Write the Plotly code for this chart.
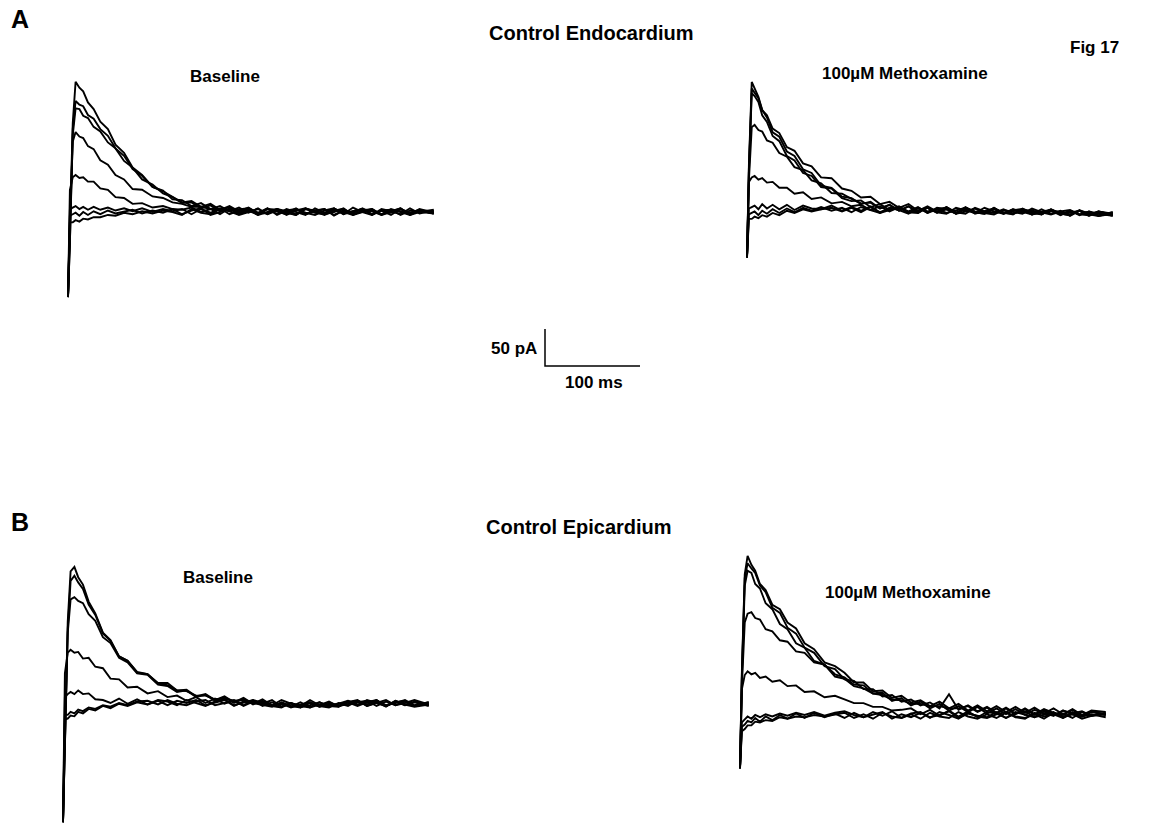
import plotly.graph_objects as go

# ---------------- data (time in ms, current in pA) ----------------
time_ms = [0, 2, 5, 8, 12, 16, 21, 27, 34, 42, 50, 59, 68, 78, 89, 100,
           110, 120, 130, 140, 150, 160, 170, 180, 190, 200, 210, 220, 230, 240,
           250, 260, 270, 280, 290, 300, 310, 320, 330, 340, 350, 360, 370, 385]

# A - Control Endocardium, Baseline
endo_base = [
    [-115, -30, 120, 176, 168, 163, 148, 139, 122, 112, 91, 80, 60, 50, 34, 28,
     21, 13, 15, 7, 11, 3, 8, 1, 6, -2, 5, -3, 4, 0, -4, 5, -1, 4, -3, 6, 0, -4, 4, 1, -3, 5, -2, 2],
    [-115, -40, 112, 150, 145, 143, 131, 126, 112, 103, 86, 76, 58, 49, 34, 29,
     17, 16, 8, 12, 4, 8, 1, 6, -1, 5, -3, 4, -1, 5, -3, 2, 4, -4, 2, -1, 5, -3, 2, -4, 4, -1, 3, -2],
    [-115, -42, 104, 140, 139, 130, 127, 115, 109, 94, 86, 69, 60, 44, 37, 25,
     20, 12, 13, 5, 9, 1, 7, -1, 5, -3, 4, 3, -4, 2, 5, -1, -3, 4, 0, -4, 2, 4, -3, 1, 5, -4, 0, 3],
    [-115, -15, 95, 108, 102, 100, 89, 85, 70, 64, 50, 44, 31, 30, 21, 19,
     13, 11, 7, 7, 4, 4, 2, 3, 5, -1, -2, 4, -1, -4, 4, 1, -3, 5, -2, 1, 4, -3, 2, 3, -4, 2, 0, -2],
    [-115, 30, 47, 50, 46, 47, 41, 41, 32, 30, 20, 19, 11, 12, 6, 8,
     4, 3, 6, 0, 4, -3, 5, -1, 2, -4, 4, 1, -3, 4, -1, -4, 2, 5, -3, 1, 4, -4, 2, -1, 4, -3, 2, 0],
    [-115, 3, 6, 8, 4, 7, 3, 7, 3, 6, 2, 5, 1, 5, 0, 4,
     1, 4, -3, 4, -1, 5, -3, 2, 4, -4, 0, 4, 1, -3, 5, 0, -4, 2, 4, -3, 0, 4, -4, 2, 1, -3, 4, -1],
    [-115, -5, -3, -1, -5, 0, -4, 1, -3, 2, -2, 1, 3, -2, 2, -1,
     4, -3, 2, 5, -4, 0, 4, -3, 2, -1, 5, -4, 2, 4, -3, 1, 4, -5, 2, -1, 4, 1, -4, 0, 5, -3, 2, -2],
    [-115, -14, -14, -11, -13, -9, -10, -7, -7, -4, -5, -1, -3, 1, -2, 2,
     0, -4, 4, -1, -3, 4, 1, -4, 0, 4, -3, 2, 0, -4, 4, 2, -3, 0, 5, -4, 0, 2, -3, 4, 0, -4, 2, 1],
]

# A - Control Endocardium, 100 uM Methoxamine
endo_mtx = [
    [-64, 60, 173, 164, 153, 135, 125, 105, 99, 79, 73, 55, 50, 33, 30, 18,
     16, 8, 11, 2, 7, -1, 5, -4, 3, -3, 2, -5, 3, -2, -4, 2, -5, 1, -3, -6, 1, -5, -1, -8, -1, -6, -8, -5],
    [-64, 55, 164, 158, 151, 135, 128, 110, 104, 85, 80, 63, 59, 44, 43, 29,
     26, 17, 18, 8, 11, 3, 8, -1, 5, -2, 4, -4, 3, -3, -5, 3, -4, 0, 1, -6, -3, 0, -6, -1, -7, -2, -5, -8],
    [-64, 50, 158, 154, 146, 128, 119, 100, 93, 73, 67, 50, 46, 31, 29, 16,
     12, 13, 4, 8, 0, 5, -2, 4, -4, 3, 1, -4, 4, -3, -5, 1, -3, -6, 2, -4, -5, 1, -6, -4, -1, -8, -2, -6],
    [-64, 40, 112, 115, 108, 106, 94, 91, 77, 72, 58, 54, 40, 36, 23, 22,
     15, 9, 10, 2, 7, -1, 5, -2, 3, -4, 4, -3, -5, 3, -2, -4, 1, -5, -1, -4, -6, 1, -5, -7, 0, -6, -2, -7],
    [-64, 38, 44, 46, 41, 43, 37, 38, 30, 30, 22, 24, 15, 17, 9, 11,
     5, 7, 0, 5, -2, 4, -3, 3, -4, 1, 3, -5, 1, -3, -4, 3, -5, -1, 1, -6, -2, 0, -5, -7, -1, -4, -7, -3],
    [-64, 2, 4, 6, 1, 8, 2, 7, 1, 7, 0, 6, 2, 1, 6, -1,
     4, -1, 5, -3, 2, 4, -4, 0, 3, -3, -5, 3, 0, -4, 3, -2, -5, 1, -4, 0, -6, 0, -3, -6, -1, -7, -2, -5],
    [-64, -6, -4, -2, -7, -1, -5, 1, -4, 2, -3, 3, -1, 4, -1, 3,
     -3, 4, 0, -4, 3, 0, -5, 3, -2, 1, -4, -1, 3, -5, -1, 2, -4, -5, 1, -2, -5, -1, -7, -1, -6, -2, -8, -3],
    [-64, -12, -12, -9, -11, -7, -9, -4, -7, -1, -4, 1, -2, 1, 3, -2,
     3, -3, 4, -4, 0, 3, -3, -4, 4, -3, 1, -5, -2, 2, -4, -6, 0, -3, -5, 2, -3, -6, -2, 0, -6, -7, -3, -8],
]

# B - Control Epicardium, Baseline
epi_base = [
    [-161, -40, 110, 178, 184, 170, 160, 137, 121, 95, 85, 63, 57, 42, 39, 27,
     27, 17, 18, 9, 12, 4, 9, 1, 7, -1, 5, -3, 4, -1, -4, 4, -3, 2, -5, 1, 4, -4, 1, -5, 3, -2, -5, -2],
    [-161, -45, 100, 165, 172, 163, 154, 133, 119, 94, 84, 63, 57, 41, 39, 26,
     24, 17, 16, 10, 10, 5, 6, 3, 4, 1, -1, 4, -5, 0, -6, 1, -4, -6, 0, -4, 3, -2, 4, -4, 1, 3, -4, -1],
    [-161, -50, 95, 140, 143, 138, 135, 120, 111, 89, 81, 61, 55, 40, 38, 25,
     23, 15, 17, 8, 11, 3, 8, 0, 6, -2, 3, -4, 0, -5, 1, -6, -2, -4, -5, 3, -2, 1, 4, -4, 2, -3, 1, -4],
    [-161, 40, 68, 72, 68, 69, 60, 61, 49, 47, 33, 32, 21, 22, 13, 16,
     8, 10, 3, 8, 0, 6, -1, 4, -3, 4, 0, -4, -1, -6, -2, 1, -5, -1, -4, 1, 3, -4, 0, 4, -3, 2, -4, 1],
    [-161, 8, 12, 15, 12, 17, 12, 13, 5, 4, 0, 6, -1, 5, -2, 4,
     2, -3, 4, 0, -4, 2, 5, -3, 0, 4, -4, 1, -5, 0, -4, -6, 1, -4, -1, 3, -3, 4, 0, -4, 3, -3, 2, -3],
    [-161, -22, -21, -17, -18, -12, -14, -8, -10, -4, -7, -1, -4, 1, -2, 3,
     -3, 3, 0, 4, -3, 1, 4, -4, 2, 0, -3, -5, 1, -4, -6, 0, -5, 1, -4, -1, 1, 3, -4, 2, -3, 0, 4, -2],
    [-161, -16, -16, -12, -14, -9, -11, -6, -8, -3, -5, 0, -3, 2, 3, -2,
     4, -1, -3, 2, 4, -3, 0, 3, -4, 2, 1, -4, -6, 0, -5, -3, 1, -5, -1, 1, -4, 1, 3, -3, 0, 4, -3, 1],
]

# B - Control Epicardium, 100 uM Methoxamine
epi_mtx = [
    [-72, 60, 190, 215, 203, 195, 177, 169, 149, 143, 125, 117, 97, 89, 71, 66,
     57, 44, 44, 32, 33, 23, 26, 17, 20, 12, 18, 9, 15, 6, 13, 5, 12, 4, 11, 3, 10, 2, 9, 1, 8, 0, 6, 4],
    [-72, 55, 185, 205, 198, 192, 175, 166, 145, 138, 118, 110, 91, 84, 66, 62,
     48, 46, 35, 35, 25, 27, 18, 21, 13, 17, 9, 28, 7, 13, 5, 11, 3, 10, 2, 9, 1, 8, 3, 0, 7, -1, 4, 1],
    [-72, 50, 175, 195, 192, 177, 171, 151, 143, 123, 116, 97, 91, 73, 68, 52,
     49, 39, 36, 29, 27, 21, 20, 15, 15, 12, 12, 9, 9, 12, 4, 10, 2, 9, 1, 8, 0, 7, -1, 6, 2, -2, 5, 0],
    [-72, 40, 125, 137, 139, 131, 129, 116, 113, 101, 99, 86, 84, 71, 68, 55,
     51, 41, 40, 29, 30, 19, 23, 13, 18, 9, 15, 6, 12, 4, 11, 2, 9, 1, 8, 0, 7, 2, -1, 6, 1, -2, 5, 0],
    [-72, 35, 54, 59, 55, 57, 50, 52, 45, 47, 39, 40, 31, 32, 24, 26,
     21, 16, 16, 11, 11, 6, 7, 9, 1, 7, -1, 6, -2, 5, -3, 4, 2, -4, 4, 0, -3, 5, 0, 2, -4, 4, -1, 2],
    [-72, -10, -6, -2, -5, 0, -3, 1, -2, 2, -1, 3, 0, 4, -1, 3,
     5, 0, -3, 4, -1, 5, -4, 2, 4, -3, 0, 5, -4, 2, -1, -3, 4, -4, 2, 5, -3, 0, 4, -4, 2, 5, -1, 3],
    [-72, -16, -13, -8, -10, -4, -9, -2, -7, 0, -5, 2, -4, 3, -3, 2,
     -4, 3, -3, 1, 4, -5, 1, -3, 3, -4, 4, 0, -5, 3, -2, -4, 1, 4, -3, -5, 3, -2, 1, -4, 4, -2, 1, -3],
    [-72, -22, -19, -14, -14, -9, -10, -7, -8, -3, -5, -2, -3, 0, -2, 1,
     3, -4, 1, -5, 3, -2, -4, 1, -5, 3, -2, -4, 4, -2, -5, 1, -4, 3, -2, -4, 1, -5, 3, -2, 1, -5, -1, 1],
]

scale_ms = [0, 0, 100]
scale_pa = [50, 0, 0]

# ---------------- layout helpers ----------------
W, H = 1149, 825
SX, SY = 0.95, 0.74   # px per ms, px per pA
FONT = "Arial, Liberation Sans, Helvetica, sans-serif"

fig = go.Figure()
layout = {}


def add_panel(idx, x0, y0, left, right, top, bottom, series, xs, width=1.9):
    left, right = max(0, left), min(W, right)
    top, bottom = max(0, top), min(H, bottom)
    xa = "xaxis" if idx == 1 else f"xaxis{idx}"
    ya = "yaxis" if idx == 1 else f"yaxis{idx}"
    xr = "x" if idx == 1 else f"x{idx}"
    yr = "y" if idx == 1 else f"y{idx}"
    layout[xa] = dict(domain=[left / W, right / W],
                      range=[(left - x0) / SX, (right - x0) / SX],
                      visible=False, anchor=yr, fixedrange=True)
    layout[ya] = dict(domain=[1 - bottom / H, 1 - top / H],
                      range=[(y0 - bottom) / SY, (y0 - top) / SY],
                      visible=False, anchor=xr, fixedrange=True)
    for s in series:
        fig.add_trace(go.Scatter(x=xs, y=s, mode="lines", xaxis=xr, yaxis=yr,
                                 line=dict(color="black", width=width),
                                 showlegend=False, hoverinfo="skip"))


panels = [
    (1, 68, 212, endo_base),
    (2, 747, 210, endo_mtx),
    (3, 63, 703, epi_base),
    (4, 740, 715, epi_mtx),
]
for idx, x0, y0, series in panels:
    add_panel(idx, x0, y0, x0 - 15, x0 + 395, y0 - 200, y0 + 130, series, time_ms)

add_panel(5, 545, 366, 530, 660, 315, 380, [scale_pa], scale_ms, width=1.5)


def label(text, px, py, size, anchor="center"):
    fig.add_annotation(x=px / W, y=1 - py / H, xref="paper", yref="paper",
                       text=f"<b>{text}</b>", showarrow=False, xanchor=anchor,
                       yanchor="middle",
                       font=dict(family=FONT, size=size, color="black"))


label("A", 9, 19, 25, "left")
label("Control Endocardium", 591, 33, 20)
label("Fig 17", 1094, 47, 17)
label("Baseline", 225, 76, 17)
label("100\u00b5M Methoxamine", 905, 73, 17)
label("50 pA", 539, 348, 17, "right")
label("100 ms", 594, 382, 17)
label("B", 9, 522, 25, "left")
label("Control Epicardium", 579, 527, 20)
label("Baseline", 218, 577, 17)
label("100\u00b5M Methoxamine", 908, 592, 17)

fig.update_layout(width=W, height=H, margin=dict(l=0, r=0, t=0, b=0),
                  paper_bgcolor="white", plot_bgcolor="white",
                  showlegend=False, **layout)

fig.write_html("out.html",
               config={"displayModeBar": False, "staticPlot": True},
               post_script="document.body.style.margin='0px';"
                           "document.body.style.overflow='hidden';")
